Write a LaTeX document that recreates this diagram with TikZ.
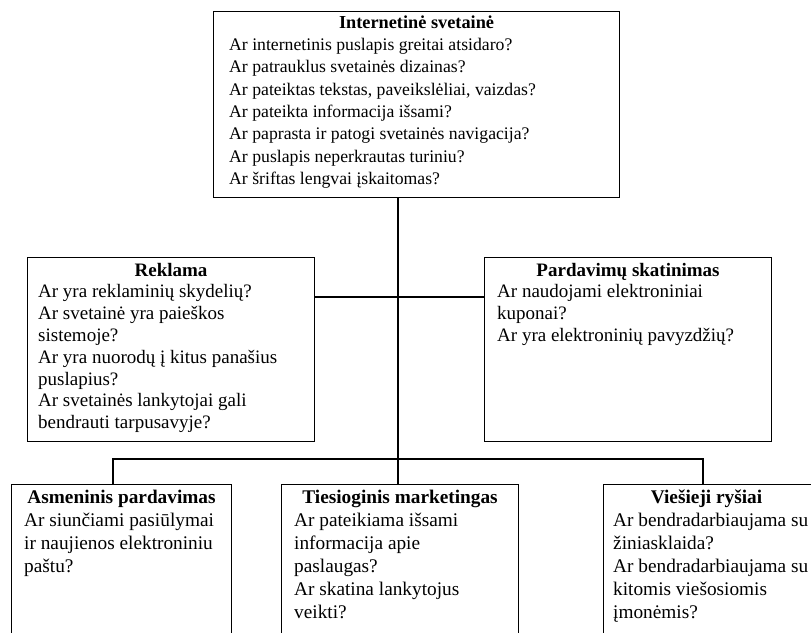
\documentclass[tikz,border=0pt]{standalone}
\usepackage{fontspec}
\setmainfont{Liberation Serif}
\begin{document}
\begin{tikzpicture}[x=1pt,y=-1pt,
  box/.style={draw=black,line width=1.1pt,rectangle,anchor=north west,inner sep=0pt},
  ttl/.style={anchor=base,inner sep=0pt,font=\fontsize{19}{21.8}\selectfont\bfseries},
  qs/.style={anchor=north west,inner sep=0pt,align=left,font=\fontsize{19}{21.8}\selectfont},
  ttltop/.style={ttl,font=\fontsize{18.3}{22.3}\selectfont\bfseries},
  qstop/.style={qs,font=\fontsize{17.7}{22.3}\selectfont},
  ttlbot/.style={ttl,font=\fontsize{19.3}{23}\selectfont\bfseries},
  qsbot/.style={qs,font=\fontsize{19.3}{23}\selectfont},
  conn/.style={line width=1.1pt,black}]
\useasboundingbox (0,0) rectangle (811,632);
\clip (0,0) rectangle (811,632);
\fill[white] (0,0) rectangle (811,632);
% boxes
\node[box,minimum width=406pt,minimum height=186pt] (top) at (213,11) {};
\node[box,minimum width=287pt,minimum height=184pt] (rek) at (27,257) {};
\node[box,minimum width=287pt,minimum height=184pt] (par) at (484,257) {};
\node[box,minimum width=220pt,minimum height=200pt] (asm) at (11,484) {};
\node[box,minimum width=237pt,minimum height=200pt] (tie) at (281,484) {};
\node[box,minimum width=214pt,minimum height=200pt] (vie) at (603,484) {};
% titles
\node[ttltop] (ttop) at ([yshift=-17pt]top.north) {Internetinė svetainė};
\node[ttl] (trek) at ([yshift=-19pt]rek.north) {Reklama};
\node[ttl] (tpar) at ([yshift=-19pt]par.north) {Pardavimų skatinimas};
\node[ttlbot] (tasm) at ([yshift=-19.5pt]asm.north) {Asmeninis pardavimas};
\node[ttlbot] (ttie) at ([yshift=-19.5pt]tie.north) {Tiesioginis marketingas};
\node[ttlbot] (tvie) at ([xshift=-4pt,yshift=-19.5pt]vie.north) {Viešieji ryšiai};
% questions
\node[qstop] (qtop) at ([xshift=16pt,yshift=-23.7pt]top.north west) {\strut Ar internetinis puslapis greitai atsidaro?\\Ar patrauklus svetainės dizainas?\\Ar pateiktas tekstas, paveikslėliai, vaizdas?\\Ar pateikta informacija išsami?\\Ar paprasta ir patogi svetainės navigacija?\\Ar puslapis neperkrautas turiniu?\\Ar šriftas lengvai įskaitomas?};
\node[qs] (qrek) at ([xshift=11pt,yshift=-25.5pt]rek.north west) {\strut Ar yra reklaminių skydelių?\\Ar svetainė yra paieškos\\sistemoje?\\Ar yra nuorodų į kitus panašius\\puslapius?\\Ar svetainės lankytojai gali\\bendrauti tarpusavyje?};
\node[qs] (qpar) at ([xshift=13pt,yshift=-25.5pt]par.north west) {\strut Ar naudojami elektroniniai\\kuponai?\\Ar yra elektroninių pavyzdžių?};
\node[qsbot] (qasm) at ([xshift=13pt,yshift=-26.4pt]asm.north west) {\strut Ar siunčiami pasiūlymai\\ir naujienos elektroniniu\\paštu?};
\node[qsbot] (qtie) at ([xshift=13pt,yshift=-26.4pt]tie.north west) {\strut Ar pateikiama išsami\\informacija apie\\paslaugas?\\Ar skatina lankytojus\\veikti?};
\node[qsbot] (qvie) at ([xshift=10pt,yshift=-26.4pt]vie.north west) {\strut Ar bendradarbiaujama su\\žiniasklaida?\\Ar bendradarbiaujama su\\kitomis viešosiomis\\įmonėmis?};
% junctions
\coordinate (j1) at (398,297);
\coordinate (j2) at (398,459);
\coordinate (b1) at (113,459);
\coordinate (b2) at (703,459);
% connectors
\draw[conn] (j1 |- top.south) -- (j1 |- tie.north);
\draw[conn] (rek.east |- j1) -- (par.west |- j1);
\draw[conn] (b1 |- asm.north) -- (b1) -- (b2) -- (b2 |- vie.north);
\end{tikzpicture}
\end{document}
